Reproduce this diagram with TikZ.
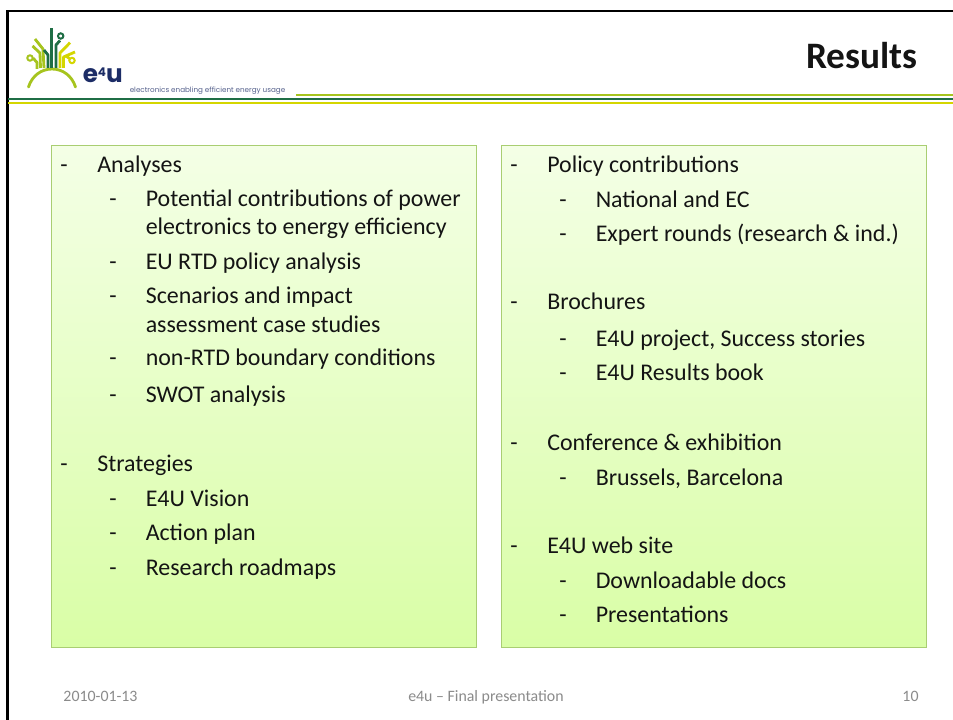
\documentclass[tikz,border=0pt]{standalone}
\usepackage{fontspec}
\setmainfont{Carlito}
\newfontfamily\logofont{Poppins}
\definecolor{boxtop}{HTML}{F4FFE6}
\definecolor{boxbot}{HTML}{D9FEA6}
\definecolor{boxline}{HTML}{A9CE72}
\definecolor{limeg}{HTML}{A6C41E}
\definecolor{darkg}{HTML}{1F6E45}
\definecolor{yell}{HTML}{D4D600}
\definecolor{navy}{HTML}{1C2C66}
\definecolor{foot}{HTML}{8B8B8B}
\tikzset{
  x=0.75pt,y=-0.75pt,
  greenbox/.style={draw=boxline,line width=1pt,top color=boxtop,bottom color=boxbot},
  bodytext/.style={anchor=base west,inner sep=0pt,font=\fontsize{17.95}{20}\selectfont,text=black!92},
  foottext/.style={anchor=base,inner sep=0pt,font=\fontsize{11.9}{13}\selectfont,text=foot},
  logoline/.style={line width=2.1pt,line join=round},
  logodot/.style={line width=1.5pt,fill=white}
}
\begin{document}
\begin{tikzpicture}
\useasboundingbox (0,0) rectangle (953,720);
\fill[white] (0,0) rectangle (953,720);
% frame
\draw[black,line width=2.2pt] (7.5,720) -- (7.5,11) -- (953,11);
% header rules
\fill[limeg] (296,94.5) rectangle (953,96.5);
\fill[darkg] (8,98) rectangle (953,100.5);
\fill[yell] (8,102) rectangle (953,104);
% logo
\draw[limeg,line width=2.1pt,line cap=round] (28.5,87) .. controls (32,76) and (41,69) .. (52,69) .. controls (63,69) and (72,76) .. (75.5,87);
\draw[limeg,logoline] (44,68) -- (43,49) -- (35,39);
\draw[limeg,logoline] (40.5,68) -- (40,53) -- (32.5,46);
\draw[limeg,logoline] (37,69) -- (37,62.5) -- (33,58);
\draw[limeg,logodot] (30,58) circle (2.7);
\draw[darkg,logoline] (51.7,68) -- (51.7,28);
\draw[darkg,logoline] (56,68) -- (56,45) -- (60,40.5);
\draw[darkg,logodot] (60.7,36) circle (2.7);
\draw[darkg,logoline] (48,68) -- (48,55) -- (44,50);
\draw[yell,logoline] (60,68) -- (60,53) -- (70,42.7);
\draw[yell,logoline] (63.5,68) -- (63.5,57) -- (75,52);
\draw[yell,logoline] (66,56) -- (69.5,58.5);
\draw[yell,logodot] (72,60.5) circle (2.7);
\node[anchor=base west,inner sep=0pt,text=navy,font=\logofont\bfseries\fontsize{18.5}{20}\selectfont] (logo) at (82.5,83) {e\raisebox{5.2pt}{\fontsize{9}{10}\selectfont 4}u};
\node[anchor=base west,inner sep=0pt,text=navy!75,font=\logofont\fontsize{5.4}{6}\selectfont] (tag) at (129.5,92.5) {electronics enabling efficient energy usage};
\node[anchor=base east,inner sep=0pt,font=\bfseries\fontsize{28}{30}\selectfont,text=black!92] (title) at (917.5,69) {Results};
% boxes
\path[greenbox] (51.5,145.5) rectangle (476.5,647.5);
\path[greenbox] (501.5,145.5) rectangle (926.5,647.5);
% left column
\foreach \y/\t in {
 173/Analyses,
 471/Strategies}{
  \node[bodytext] at (60,\y) {-};
  \node[bodytext] at (97,\y) {\t};
}
\foreach \y/\t in {
 207/Potential contributions of power,
 270/EU RTD policy analysis,
 304/Scenarios and impact,
 365/non-RTD boundary conditions,
 402/SWOT analysis,
 506/E4U Vision,
 540/Action plan,
 575/Research roadmaps}{
  \node[bodytext] at (109,\y) {-};
  \node[bodytext] at (145.5,\y) {\t};
}
\node[bodytext] at (145.5,235) {electronics to energy efficiency};
\node[bodytext] at (145.5,332) {assessment case studies};
% right column
\foreach \y/\t in {
 173/Policy contributions,
 310/Brochures,
 450/Conference \& exhibition,
 553/E4U web site}{
  \node[bodytext] at (510,\y) {-};
  \node[bodytext] at (547,\y) {\t};
}
\foreach \y/\t in {
 208/National and EC,
 242/Expert rounds (research \& ind.),
 346/{E4U project, Success stories},
 380/E4U Results book,
 485/{Brussels, Barcelona},
 588/Downloadable docs,
 622/Presentations}{
  \node[bodytext] at (559,\y) {-};
  \node[bodytext] at (595.5,\y) {\t};
}
% footer
\node[foottext] (date) at (100.5,701) {2010-01-13};
\node[foottext] (pres) at (486,701) {e4u – Final presentation};
\node[foottext] (num) at (910.5,701) {10};
\end{tikzpicture}
\end{document}
